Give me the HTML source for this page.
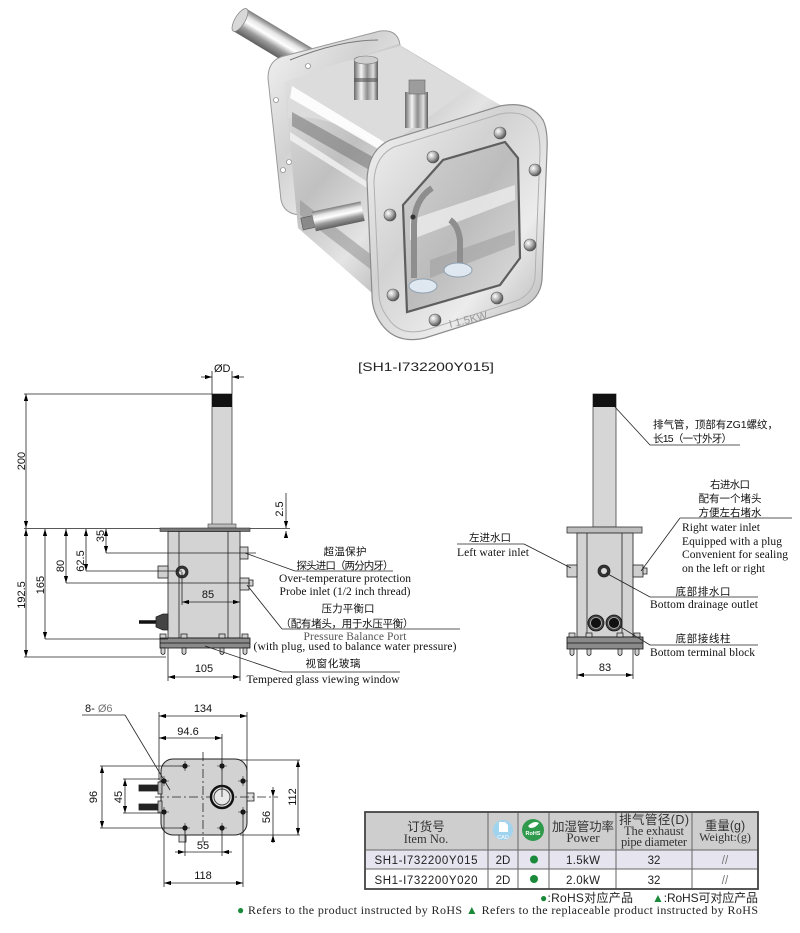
<!DOCTYPE html>
<html><head><meta charset="utf-8"><style>
html,body{margin:0;padding:0;background:#fff;}
svg{display:block}
.cn{font-family:"Liberation Sans","Noto Sans CJK SC",sans-serif;font-size:10.5px;fill:#111}
.en{font-family:"Liberation Serif",serif;font-size:11.5px;fill:#111}
.d{font-family:"Liberation Sans",sans-serif;font-size:11px;fill:#111}
</style></head><body>
<svg width="800" height="933" viewBox="0 0 800 933" xmlns="http://www.w3.org/2000/svg">
<defs>
<marker id="ar" viewBox="0 0 10 6" refX="10" refY="3" markerWidth="7" markerHeight="4.2" markerUnits="userSpaceOnUse" orient="auto-start-reverse"><path d="M0,0 L10,3 L0,6z" fill="#000"/></marker>
<linearGradient id="gPipe" x1="0" y1="0" x2="0" y2="1"><stop offset="0" stop-color="#7a7a7a"/><stop offset="0.25" stop-color="#e6e6e6"/><stop offset="0.45" stop-color="#ffffff"/><stop offset="0.7" stop-color="#9a9a9a"/><stop offset="1" stop-color="#5e5e5e"/></linearGradient>
<linearGradient id="gCyl" x1="0" y1="0" x2="1" y2="0"><stop offset="0" stop-color="#6a6a6a"/><stop offset="0.3" stop-color="#f4f4f4"/><stop offset="0.55" stop-color="#8e8e8e"/><stop offset="0.8" stop-color="#dedede"/><stop offset="1" stop-color="#5a5a5a"/></linearGradient>
<linearGradient id="gFl" x1="0" y1="0" x2="1" y2="1"><stop offset="0" stop-color="#f4f4f4"/><stop offset="0.4" stop-color="#d2d2d2"/><stop offset="0.7" stop-color="#ececec"/><stop offset="1" stop-color="#b0b0b0"/></linearGradient>
<linearGradient id="gBody" x1="0" y1="0" x2="1" y2="1"><stop offset="0" stop-color="#e8e8e8"/><stop offset="0.35" stop-color="#c0c0c0"/><stop offset="0.55" stop-color="#e4e4e4"/><stop offset="0.8" stop-color="#a5a5a5"/><stop offset="1" stop-color="#d0d0d0"/></linearGradient>
<linearGradient id="gWin" x1="0" y1="0" x2="1" y2="1"><stop offset="0" stop-color="#d2d2d2"/><stop offset="0.5" stop-color="#bcbcbc"/><stop offset="1" stop-color="#dedede"/></linearGradient>
<radialGradient id="gBolt" cx="0.35" cy="0.35" r="0.7"><stop offset="0" stop-color="#ffffff"/><stop offset="0.5" stop-color="#b0b0b0"/><stop offset="1" stop-color="#4a4a4a"/></radialGradient>
</defs>

<!-- ================= PHOTO ================= -->
<g id="photo">
  <g transform="translate(240,20) rotate(31)">
    <rect x="0" y="-13" width="85" height="26" fill="url(#gPipe)"/>
    <ellipse cx="0" cy="0" rx="5" ry="13" fill="#d8d8d8" stroke="#8a8a8a" stroke-width="0.8"/>
  </g>
  <path d="M268,78 Q268,60 284,56 L380,31 Q398,29 400,45 L403,120 L300,215 Q284,214 281,200 Z" fill="url(#gFl)" stroke="#9a9a9a" stroke-width="1"/>
  <circle cx="276" cy="100" r="2.5" fill="#fff" stroke="#777" stroke-width="0.6"/>
  <circle cx="289" cy="162" r="2.5" fill="#fff" stroke="#777" stroke-width="0.6"/>
  <circle cx="283" cy="170" r="2.5" fill="#fff" stroke="#777" stroke-width="0.6"/>
  <circle cx="308" cy="66" r="2.5" fill="#fff" stroke="#777" stroke-width="0.6"/>
  <path d="M284,82 L398,44 L512,112 L380,300 L298,228 Z" fill="url(#gBody)"/>
  <path d="M288,90 Q300,72 330,66 L400,46 L470,88 L382,150 Q330,112 288,118 Z" fill="#dcdcdc"/>
  <path d="M292,86 L384,142 L380,150 L290,98 Z" fill="#ffffff" opacity="0.9"/>
  <path d="M292,112 L382,162 L380,176 L292,126 Z" fill="#7c7c7c" opacity="0.6"/>
  <path d="M290,132 L380,190 L380,196 L290,140 Z" fill="#f4f4f4" opacity="0.8"/>
  <path d="M300,200 L378,260 L378,275 L300,215 Z" fill="#8a8a8a" opacity="0.5"/>
  <path d="M290,60 Q340,40 378,40" fill="none" stroke="#777" stroke-width="1"/>
  <rect x="354" y="60" width="24" height="40" fill="url(#gCyl)"/>
  <ellipse cx="366" cy="60" rx="12" ry="4" fill="#cfcfcf" stroke="#777" stroke-width="0.6"/>
  <rect x="354" y="78" width="24" height="4" fill="#555" opacity="0.6"/>
  <rect x="405" y="92" width="23" height="36" fill="url(#gCyl)"/>
  <rect x="409" y="80" width="16" height="14" fill="#9c9c9c" stroke="#666" stroke-width="0.6"/>
  <g transform="translate(302,224) rotate(-12)">
    <rect x="0" y="-6" width="12" height="12" fill="#8a8a8a" stroke="#555" stroke-width="0.6"/>
    <rect x="12" y="-10" width="50" height="20" fill="url(#gPipe)"/>
  </g>
  <path d="M367,180 Q368,150 390,140 L500,106 Q530,100 543,120 Q548,130 547,150 L542,280 Q540,300 520,308 L425,338 Q395,345 380,322 Q372,310 372,295 Z" fill="url(#gFl)" stroke="#8c8c8c" stroke-width="1.2"/>
  <path d="M374,182 Q375,156 394,147 L500,114 Q526,109 536,126 Q540,134 540,152 L535,278 Q533,294 516,301 L426,330 Q400,337 388,318 Q380,308 379,295 Z" fill="none" stroke="#b0b0b0" stroke-width="1"/>
  <path d="M403,205 L443,160 L505,142 L518,158 L520,258 L500,285 L407,312 Z" fill="url(#gWin)" stroke="#5e5e5e" stroke-width="2.2"/>
  <path d="M410,220 L515,185 L515,200 L410,240 Z" fill="#f2f2f2" opacity="0.7"/>
  <path d="M430,260 L515,230 L515,245 L430,278 Z" fill="#a0a0a0" opacity="0.6"/>
  <path d="M414,278 L414,225 Q414,200 432,188" fill="none" stroke="#8e8e8e" stroke-width="6"/>
  <path d="M460,268 L460,240 Q458,225 450,220" fill="none" stroke="#8e8e8e" stroke-width="6"/>
  <circle cx="413" cy="217" r="2.5" fill="#333"/>
  <ellipse cx="423" cy="286" rx="14" ry="7" fill="#dfe8f0" stroke="#8fa0b0" stroke-width="1"/>
  <ellipse cx="458" cy="270" rx="14" ry="7" fill="#dfe8f0" stroke="#8fa0b0" stroke-width="1"/>
  <text x="448" y="324" transform="rotate(-14 465 318)" font-family="Liberation Sans,sans-serif" font-size="11" fill="#9a9a9a">I 1.5KW</text>
  <g fill="url(#gBolt)" stroke="#555" stroke-width="0.6">
    <circle cx="500" cy="133" r="6"/><circle cx="433" cy="157" r="6"/><circle cx="535" cy="170" r="6"/>
    <circle cx="390" cy="215" r="6"/><circle cx="530" cy="245" r="6"/><circle cx="393" cy="295" r="6"/>
    <circle cx="497" cy="298" r="6"/><circle cx="435" cy="320" r="6"/>
  </g>
  <text x="426" y="371" text-anchor="middle" font-family="Liberation Sans,sans-serif" font-size="12" fill="#222" textLength="136" lengthAdjust="spacingAndGlyphs">[SH1-I732200Y015]</text>
</g>

<!-- ================= LEFT SIDE VIEW ================= -->
<g id="left" stroke="#222" stroke-width="0.8">
  <rect x="212" y="394" width="20" height="134" fill="#d6d6d6" stroke="#444"/>
  <rect x="212" y="394" width="20" height="13" fill="#111" stroke="none"/>
  <rect x="208" y="524" width="28" height="4" fill="#bbb" stroke="#444" stroke-width="0.6"/>
  <line x1="24" y1="528.5" x2="290" y2="528.5"/>
  <rect x="160" y="528" width="90" height="3.5" fill="#777" stroke="#333" stroke-width="0.6"/>
  <rect x="168" y="531.5" width="72" height="106.5" fill="#d3d3d3" stroke="#333" stroke-width="0.9"/>
  <line x1="179" y1="531" x2="179" y2="638"/>
  <line x1="228" y1="531" x2="228" y2="638"/>
  <rect x="158" y="566" width="10" height="12" fill="#cfcfcf"/>
  <circle cx="182" cy="572" r="6" fill="#333"/>
  <circle cx="182" cy="572" r="3.2" fill="#ddd" stroke="none"/>
  <rect x="240" y="547" width="8" height="12" fill="#cfcfcf"/>
  <rect x="240" y="578" width="9" height="12" fill="#cfcfcf"/>
  <rect x="249" y="580" width="4" height="6" fill="#cfcfcf"/>
  <line x1="139" y1="622" x2="157" y2="622" stroke="#111" stroke-width="3.5"/>
  <path d="M156,617 L163,614 L168,614 L168,630 L163,630 L156,627 Z" fill="#444" stroke="#222"/>
  <rect x="160" y="638" width="90" height="10" fill="#8a8a8a" stroke="#111"/>
  <line x1="160" y1="643" x2="250" y2="643" stroke="#111"/>
  <g fill="#cfcfcf" stroke="#111" stroke-width="0.7">
    <rect x="160" y="634" width="6" height="4"/><rect x="181" y="634" width="6" height="4"/><rect x="219" y="634" width="6" height="4"/><rect x="242" y="634" width="6" height="4"/>
    <path d="M161,648 h4 v5 q-2,3 -4,0z"/><path d="M182,648 h4 v5 q-2,3 -4,0z"/><path d="M220,648 h4 v5 q-2,3 -4,0z"/><path d="M243,648 h4 v5 q-2,3 -4,0z"/>
  </g>
  <line x1="24" y1="394" x2="212" y2="394"/>
  <line x1="106" y1="553" x2="256" y2="553"/>
  <line x1="86" y1="571" x2="182" y2="571"/>
  <line x1="66" y1="583" x2="250" y2="583"/>
  <line x1="45" y1="639" x2="168" y2="639"/>
  <line x1="24" y1="657" x2="166" y2="657"/>
  <line x1="212" y1="371" x2="212" y2="394"/>
  <line x1="232" y1="371" x2="232" y2="394"/>
  <line x1="182" y1="572" x2="182" y2="605"/>
  <line x1="168" y1="648" x2="168" y2="681"/>
  <line x1="240" y1="648" x2="240" y2="681"/>
  <line x1="26" y1="394" x2="26" y2="528" marker-start="url(#ar)" marker-end="url(#ar)"/>
  <line x1="26" y1="529" x2="26" y2="657" marker-start="url(#ar)" marker-end="url(#ar)"/>
  <line x1="45" y1="529" x2="45" y2="639" marker-start="url(#ar)" marker-end="url(#ar)"/>
  <line x1="66" y1="529" x2="66" y2="583" marker-start="url(#ar)" marker-end="url(#ar)"/>
  <line x1="86" y1="529" x2="86" y2="571" marker-start="url(#ar)" marker-end="url(#ar)"/>
  <line x1="106" y1="529" x2="106" y2="553" marker-start="url(#ar)" marker-end="url(#ar)"/>
  <line x1="286" y1="493" x2="286" y2="528" marker-end="url(#ar)"/>
  <line x1="286" y1="537" x2="286" y2="531" marker-end="url(#ar)"/>
  <line x1="182" y1="602" x2="240" y2="602" marker-start="url(#ar)" marker-end="url(#ar)"/>
  <line x1="168" y1="677" x2="240" y2="677" marker-start="url(#ar)" marker-end="url(#ar)"/>
  <line x1="201" y1="377" x2="212" y2="377" marker-end="url(#ar)"/>
  <line x1="244" y1="377" x2="232" y2="377" marker-end="url(#ar)"/>
  <line x1="245" y1="553" x2="295" y2="571"/>
  <line x1="295" y1="571" x2="393" y2="571"/>
  <line x1="247" y1="585" x2="282" y2="629"/>
  <line x1="282" y1="629" x2="460" y2="629"/>
  <line x1="205" y1="646" x2="282" y2="672"/>
  <line x1="282" y1="672" x2="400" y2="672"/>
</g>
<g>
  <text class="d" x="214" y="372">ØD</text>
  <text class="d" transform="rotate(-90 25 461)" x="25" y="461" text-anchor="middle">200</text>
  <text class="d" transform="rotate(-90 25 595)" x="25" y="595" text-anchor="middle">192.5</text>
  <text class="d" transform="rotate(-90 44 585)" x="44" y="585" text-anchor="middle">165</text>
  <text class="d" transform="rotate(-90 64 566)" x="64" y="566" text-anchor="middle">80</text>
  <text class="d" transform="rotate(-90 84 561)" x="84" y="561" text-anchor="middle">62.5</text>
  <text class="d" transform="rotate(-90 104 536)" x="104" y="536" text-anchor="middle">35</text>
  <text class="d" transform="rotate(-90 283 509)" x="283" y="509" text-anchor="middle">2.5</text>
  <text class="d" x="208" y="598" text-anchor="middle">85</text>
  <text class="d" x="204" y="672" text-anchor="middle">105</text>

  <text class="cn" x="345" y="555" text-anchor="middle" textLength="43">超温保护</text>
  <text class="cn" x="345" y="569" text-anchor="middle" textLength="97">探头进口（两分内牙）</text>
  <text class="en" x="345" y="582" text-anchor="middle" textLength="132">Over-temperature protection</text>
  <text class="en" x="345" y="595" text-anchor="middle" textLength="131">Probe inlet (1/2 inch thread)</text>
  <text class="cn" x="348" y="612" text-anchor="middle" textLength="53">压力平衡口</text>
  <text class="cn" x="347" y="627" text-anchor="middle" textLength="133">（配有堵头，用于水压平衡）</text>
  <text class="en" x="355" y="640" text-anchor="middle" textLength="103" style="fill:#555">Pressure Balance Port</text>
  <text class="en" x="355" y="650" text-anchor="middle" textLength="203">(with plug, used to balance water pressure)</text>
  <text class="cn" x="333" y="667" text-anchor="middle" textLength="55">视窗化玻璃</text>
  <text class="en" x="323" y="683" text-anchor="middle" textLength="153">Tempered glass viewing window</text>
</g>

<!-- ================= RIGHT FRONT VIEW ================= -->
<g id="right" stroke="#222" stroke-width="0.8">
  <rect x="593" y="394" width="23" height="133" fill="#d6d6d6" stroke="#444"/>
  <rect x="593" y="394" width="23" height="13" fill="#111" stroke="none"/>
  <rect x="567" y="527" width="75" height="6" fill="#bdbdbd" stroke="#333"/>
  <rect x="577" y="533" width="56" height="104" fill="#d3d3d3" stroke="#333" stroke-width="0.9"/>
  <line x1="587" y1="533" x2="587" y2="637"/>
  <line x1="622" y1="533" x2="622" y2="637"/>
  <rect x="567" y="565" width="10" height="12" fill="#cfcfcf"/>
  <rect x="633" y="565" width="10" height="12" fill="#cfcfcf"/>
  <rect x="643" y="568" width="4" height="6" fill="#cfcfcf"/>
  <circle cx="604" cy="571" r="6" fill="#333"/>
  <circle cx="604" cy="571" r="3" fill="#ddd" stroke="none"/>
  <circle cx="596" cy="623" r="8" fill="#444" stroke="#111"/>
  <circle cx="596" cy="623" r="5.5" fill="#111" stroke="#bbb" stroke-width="0.8"/>
  <circle cx="614" cy="623" r="8" fill="#444" stroke="#111"/>
  <circle cx="614" cy="623" r="5.5" fill="#111" stroke="#bbb" stroke-width="0.8"/>
  <rect x="567" y="637" width="76" height="12" fill="#8a8a8a" stroke="#111"/>
  <line x1="567" y1="643" x2="643" y2="643" stroke="#111"/>
  <g fill="#cfcfcf" stroke="#111" stroke-width="0.7">
    <rect x="569" y="633" width="6" height="4"/><rect x="586" y="633" width="6" height="4"/><rect x="617" y="633" width="6" height="4"/><rect x="634" y="633" width="6" height="4"/>
    <path d="M570,649 h4 v5 q-2,3 -4,0z"/><path d="M587,649 h4 v5 q-2,3 -4,0z"/><path d="M618,649 h4 v5 q-2,3 -4,0z"/><path d="M635,649 h4 v5 q-2,3 -4,0z"/>
  </g>
  <line x1="577" y1="649" x2="577" y2="679"/>
  <line x1="633" y1="649" x2="633" y2="679"/>
  <line x1="577" y1="675" x2="633" y2="675" marker-start="url(#ar)" marker-end="url(#ar)"/>
  <line x1="615" y1="407" x2="650" y2="445"/>
  <line x1="650" y1="445" x2="740" y2="445"/>
  <line x1="641" y1="571" x2="680" y2="518"/>
  <line x1="680" y1="518" x2="792" y2="518"/>
  <line x1="457" y1="544" x2="524" y2="544"/>
  <line x1="524" y1="544" x2="571" y2="568"/>
  <line x1="606" y1="573" x2="650" y2="597"/>
  <line x1="650" y1="597" x2="758" y2="597"/>
  <line x1="619" y1="626" x2="650" y2="645"/>
  <line x1="650" y1="645" x2="758" y2="645"/>
</g>
<g>
  <text class="d" x="605" y="671" text-anchor="middle">83</text>
  <text class="cn" x="653" y="428" textLength="125">排气管，顶部有ZG1螺纹，</text>
  <text class="cn" x="653" y="442" textLength="79">长15（一寸外牙）</text>
  <text class="cn" x="730" y="488" text-anchor="middle" textLength="40">右进水口</text>
  <text class="cn" x="730" y="502" text-anchor="middle" textLength="63">配有一个堵头</text>
  <text class="cn" x="730" y="516" text-anchor="middle" textLength="63">方便左右堵水</text>
  <text class="en" x="682" y="531" textLength="78">Right water inlet</text>
  <text class="en" x="682" y="545" textLength="100">Equipped with a plug</text>
  <text class="en" x="682" y="558" textLength="106">Convenient for sealing</text>
  <text class="en" x="682" y="572" textLength="83">on the left or right</text>
  <text class="cn" x="490" y="541" text-anchor="middle" textLength="42">左进水口</text>
  <text class="en" x="457" y="556" textLength="72">Left water inlet</text>
  <text class="cn" x="703" y="595" text-anchor="middle" textLength="55">底部排水口</text>
  <text class="en" x="650" y="608" textLength="108">Bottom drainage outlet</text>
  <text class="cn" x="703" y="642" text-anchor="middle" textLength="55">底部接线柱</text>
  <text class="en" x="650" y="656" textLength="105">Bottom terminal block</text>
</g>

<!-- ================= BOTTOM VIEW ================= -->
<g id="bottom" stroke="#222" stroke-width="0.8">
  <rect x="161" y="759" width="86" height="76" rx="12" fill="#d2d2d2" stroke="#222" stroke-width="1"/>
  <rect x="139" y="785" width="20" height="6" fill="#222"/>
  <rect x="139" y="804" width="20" height="6" fill="#222"/>
  <rect x="158" y="782" width="4" height="12" fill="#bbb"/>
  <rect x="158" y="801" width="4" height="12" fill="#bbb"/>
  <rect x="247" y="793" width="7" height="8" fill="#ddd"/>
  <rect x="179" y="835" width="7" height="7" fill="#ddd"/>
  <line x1="203" y1="752" x2="203" y2="842" stroke-dasharray="9,3,2,3"/>
  <line x1="155" y1="797" x2="278" y2="797" stroke-dasharray="9,3,2,3"/>
  <circle cx="222" cy="797" r="11" fill="#e6e6e6" stroke="#111" stroke-width="2.5"/>
  <circle cx="222" cy="797" r="8" fill="#e8e8e8" stroke="#444" stroke-width="1"/>
  <g fill="#111" stroke="none">
    <circle cx="185" cy="766" r="2.6"/><circle cx="222" cy="766" r="2.6"/>
    <circle cx="164" cy="781" r="2.6"/><circle cx="243" cy="781" r="2.6"/>
    <circle cx="164" cy="812" r="2.6"/><circle cx="243" cy="812" r="2.6"/>
    <circle cx="185" cy="828" r="2.6"/><circle cx="222" cy="828" r="2.6"/>
  </g>
  <g stroke-width="0.6">
    <path d="M180,766h10M185,761v10M217,766h10M222,761v10M159,781h10M164,776v10M238,781h10M243,776v10M159,812h10M164,807v10M238,812h10M243,807v10M180,828h10M185,823v10M217,828h10M222,823v10"/>
  </g>
  <line x1="159" y1="712" x2="159" y2="780"/>
  <line x1="247" y1="712" x2="247" y2="772"/>
  <line x1="222" y1="734" x2="222" y2="797"/>
  <line x1="100" y1="766" x2="185" y2="766"/>
  <line x1="100" y1="828" x2="185" y2="828"/>
  <line x1="123" y1="779" x2="160" y2="779"/>
  <line x1="123" y1="813" x2="160" y2="813"/>
  <line x1="240" y1="760" x2="300" y2="760"/>
  <line x1="240" y1="835" x2="300" y2="835"/>
  <line x1="185" y1="828" x2="185" y2="856"/>
  <line x1="222" y1="828" x2="222" y2="856"/>
  <line x1="164" y1="812" x2="164" y2="887"/>
  <line x1="243" y1="812" x2="243" y2="887"/>
  <line x1="159" y1="716" x2="247" y2="716" marker-start="url(#ar)" marker-end="url(#ar)"/>
  <line x1="159" y1="738" x2="222" y2="738" marker-start="url(#ar)" marker-end="url(#ar)"/>
  <line x1="102" y1="766" x2="102" y2="828" marker-start="url(#ar)" marker-end="url(#ar)"/>
  <line x1="125" y1="779" x2="125" y2="813" marker-start="url(#ar)" marker-end="url(#ar)"/>
  <line x1="298" y1="760" x2="298" y2="835" marker-start="url(#ar)" marker-end="url(#ar)"/>
  <line x1="273" y1="787" x2="273" y2="797" marker-end="url(#ar)"/>
  <line x1="273" y1="843" x2="273" y2="835" marker-end="url(#ar)"/>
  <line x1="273" y1="797" x2="273" y2="835"/>
  <line x1="175" y1="852" x2="185" y2="852" marker-end="url(#ar)"/>
  <line x1="232" y1="852" x2="222" y2="852" marker-end="url(#ar)"/>
  <line x1="185" y1="852" x2="222" y2="852"/>
  <line x1="164" y1="883" x2="243" y2="883" marker-start="url(#ar)" marker-end="url(#ar)"/>
  <line x1="82" y1="715" x2="125" y2="715"/>
  <line x1="125" y1="715" x2="170" y2="790"/>
</g>
<g>
  <text class="d" x="85" y="712">8- <tspan fill="#777">Ø6</tspan></text>
  <text class="d" x="203" y="712" text-anchor="middle">134</text>
  <text class="d" x="188" y="735" text-anchor="middle">94.6</text>
  <text class="d" transform="rotate(-90 97 797)" x="97" y="797" text-anchor="middle">96</text>
  <text class="d" transform="rotate(-90 122 797)" x="122" y="797" text-anchor="middle">45</text>
  <text class="d" transform="rotate(-90 296 797)" x="296" y="797" text-anchor="middle">112</text>
  <text class="d" transform="rotate(-90 270 817)" x="270" y="817" text-anchor="middle">56</text>
  <text class="d" x="203" y="849" text-anchor="middle">55</text>
  <text class="d" x="203" y="879" text-anchor="middle">118</text>
</g>

<!-- ================= TABLE ================= -->
<g id="table">
  <rect x="365" y="812" width="393" height="38" fill="#cecece"/>
  <rect x="365" y="850" width="393" height="19" fill="#e6e4ef"/>
  <rect x="365" y="869" width="393" height="20" fill="#ffffff"/>
  <g stroke="#666" stroke-width="1">
    <line x1="365" y1="850" x2="758" y2="850"/>
    <line x1="365" y1="869" x2="758" y2="869"/>
    <line x1="488" y1="812" x2="488" y2="889"/>
    <line x1="518" y1="812" x2="518" y2="889"/>
    <line x1="549" y1="812" x2="549" y2="889"/>
    <line x1="616" y1="812" x2="616" y2="889"/>
    <line x1="692" y1="812" x2="692" y2="889"/>
  </g>
  <rect x="365" y="812" width="393" height="77" fill="none" stroke="#444" stroke-width="1.8"/>
  <circle cx="503" cy="830" r="10" fill="#9fd3ee"/>
  <path d="M499,822 h6 l3,3 v7 h-9 z" fill="#fff"/>
  <text x="503" y="839" text-anchor="middle" font-family="Liberation Sans,sans-serif" font-size="5.5" fill="#fff">CAD</text>
  <circle cx="533" cy="830" r="11" fill="#2f9a4b"/>
  <path d="M528,826 q6,-6 11,-3 q-3,5 -9,5z" fill="#fff"/>
  <text x="533" y="835" text-anchor="middle" font-family="Liberation Sans,sans-serif" font-size="5.5" font-weight="bold" fill="#fff">RoHS</text>
  <g font-family="Liberation Sans,'Noto Sans CJK SC',sans-serif" fill="#333" text-anchor="middle" font-size="12.5">
    <text x="426" y="831">订货号</text>
    <text x="583" y="831" textLength="62">加湿管功率</text>
    <text x="654" y="824" textLength="70">排气管径(D)</text>
    <text x="725" y="830">重量(g)</text>
  </g>
  <g font-family="Liberation Serif,serif" fill="#333" text-anchor="middle" font-size="12.5">
    <text x="426" y="843">Item No.</text>
    <text x="583" y="842" font-size="13">Power</text>
    <text x="654" y="835" textLength="60">The exhaust</text>
    <text x="654" y="846" textLength="66">pipe diameter</text>
    <text x="725" y="841" font-size="12">Weight:(g)</text>
  </g>
  <g font-family="Liberation Sans,sans-serif" fill="#222" text-anchor="middle" font-size="11.5">
    <text x="426" y="864" textLength="103">SH1-I732200Y015</text>
    <text x="426" y="884" textLength="103">SH1-I732200Y020</text>
    <text x="503" y="864">2D</text>
    <text x="503" y="884">2D</text>
    <text x="583" y="864" textLength="34">1.5kW</text>
    <text x="583" y="884" textLength="34">2.0kW</text>
    <text x="654" y="864">32</text>
    <text x="654" y="884">32</text>
    <text x="725" y="864" fill="#777">//</text>
    <text x="725" y="884" fill="#777">//</text>
  </g>
  <circle cx="534" cy="859.5" r="4" fill="#1a8a3a"/>
  <circle cx="534" cy="879" r="4" fill="#1a8a3a"/>
  <text x="540" y="902" font-family="Liberation Sans,'Noto Sans CJK SC',sans-serif" font-size="12" fill="#222" textLength="93"><tspan fill="#1a8a3a">●</tspan>:RoHS对应产品</text>
  <text x="652" y="902" font-family="Liberation Sans,'Noto Sans CJK SC',sans-serif" font-size="12" fill="#222" textLength="106"><tspan fill="#1a8a3a">▲</tspan>:RoHS可对应产品</text>
  <text x="237" y="914" font-family="Liberation Serif,serif" font-size="12" fill="#222" textLength="521"><tspan fill="#1a8a3a">●</tspan> Refers to the product instructed by RoHS  <tspan fill="#1a8a3a">▲</tspan> Refers to the replaceable product instructed by RoHS</text>
</g>
</svg>
</body></html>
